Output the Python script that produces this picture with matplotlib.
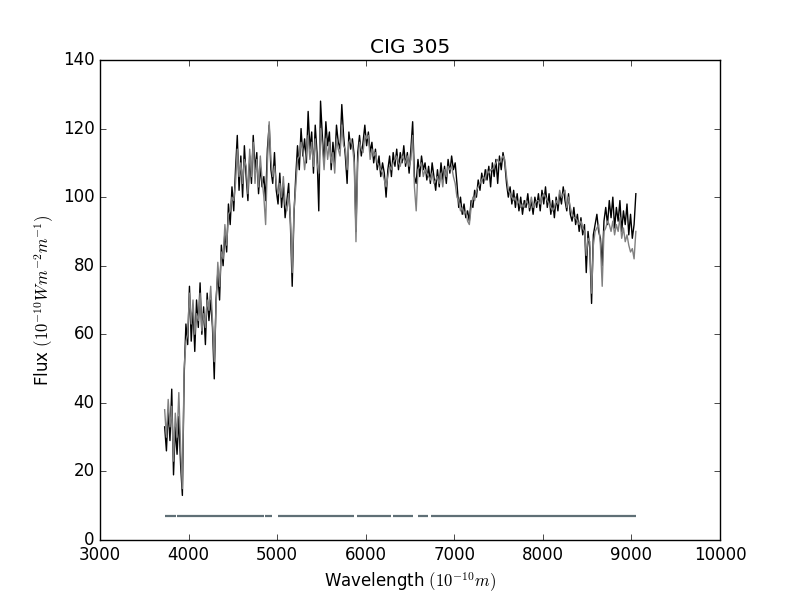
import numpy as np
import matplotlib
matplotlib.use("Agg")
import matplotlib.pyplot as plt

plt.style.use("classic")

title = "CIG 305"
wl_start = 3730.0
wl_step = 20.0

flux_observed = [
    33, 26, 38, 29, 44,
    19, 33, 25, 36, 22,
    13, 48, 63, 57, 74,
    58, 68, 55, 70, 62,
    75, 60, 68, 57, 72,
    64, 70, 62, 47, 70,
    78, 70, 86, 80, 90,
    84, 98, 92, 103, 96,
    108, 118, 102, 112, 100,
    115, 106, 99, 112, 104,
    118, 108, 113, 101, 109,
    103, 106, 99, 114, 121,
    108, 104, 113, 102, 98,
    107, 97, 104, 94, 99,
    104, 92, 74, 95, 106,
    115, 108, 120, 112, 117,
    110, 125, 114, 119, 107,
    121, 113, 96, 128, 118,
    110, 122, 115, 119, 108,
    116, 110, 121, 116, 114,
    127, 118, 112, 104, 119,
    114, 117, 112, 90, 113,
    118, 112, 116, 121, 115,
    119, 113, 116, 110, 114,
    108, 112, 106, 110, 107,
    100, 108, 112, 106, 113,
    109, 114, 108, 113, 110,
    115, 109, 113, 107, 114,
    122, 106, 104, 111, 106,
    112, 108, 110, 105, 109,
    104, 110, 106, 102, 108,
    103, 110, 105, 109, 104,
    111, 107, 112, 108, 110,
    104, 97, 100, 95, 98,
    94, 96, 93, 99, 97,
    102, 100, 105, 102, 107,
    104, 108, 105, 109, 103,
    110, 106, 111, 104, 112,
    108, 113, 110, 104, 100,
    103, 98, 102, 97, 101,
    96, 100, 95, 99, 97,
    101, 96, 99, 95, 100,
    97, 101, 96, 102, 98,
    103, 97, 101, 95, 99,
    94, 100, 96, 101, 98,
    103, 99, 96, 101, 95,
    93, 97, 92, 95, 90,
    94, 89, 92, 78, 90,
    85, 69, 89, 92, 95,
    90, 88, 80, 93, 97,
    92, 99, 94, 100, 91,
    97, 93, 99, 90, 96,
    92, 98, 89, 95, 88,
    92, 101,
]

flux_model = [
    38, 30, 41, 33, 39,
    23, 37, 30, 43, 27,
    15, 50, 58, 60, 72,
    63, 70, 60, 66, 64,
    72, 61, 66, 62, 70,
    67, 74, 64, 52, 68,
    81, 74, 84, 82, 92,
    86, 95, 96, 100, 99,
    104, 114, 106, 110, 104,
    111, 109, 101, 114, 106,
    116, 104, 111, 103, 112,
    105, 100, 92, 110, 122,
    111, 106, 109, 104, 101,
    104, 100, 106, 98, 96,
    101, 94, 78, 96, 103,
    111, 112, 116, 114, 108,
    113, 118, 111, 116, 109,
    117, 110, 107, 120, 115,
    108, 117, 111, 116, 110,
    113, 107, 117, 114, 112,
    121, 115, 114, 108, 116,
    117, 115, 110, 87, 110,
    116, 114, 113, 118, 117,
    118, 111, 114, 112, 113,
    110, 109, 108, 107, 105,
    103, 106, 109, 108, 110,
    111, 112, 110, 109, 112,
    111, 110, 112, 109, 111,
    118, 103, 96, 108, 109,
    110, 106, 108, 107, 106,
    105, 107, 104, 105, 106,
    104, 107, 103, 108, 106,
    109, 108, 109, 106, 104,
    100, 99, 96, 97, 95,
    96, 93, 92, 97, 100,
    99, 102, 103, 104, 105,
    106, 105, 108, 107, 108,
    108, 109, 110, 111, 110,
    111, 112, 111, 106, 102,
    101, 100, 99, 100, 98,
    99, 97, 98, 97, 99,
    98, 97, 100, 97, 98,
    99, 99, 98, 100, 101,
    100, 99, 98, 97, 96,
    97, 99, 98, 102, 100,
    101, 102, 97, 100, 97,
    95, 94, 94, 93, 92,
    93, 91, 90, 83, 88,
    87, 72, 86, 90, 91,
    92, 86, 74, 90, 91,
    93, 92, 90, 93, 89,
    92, 90, 94, 88, 91,
    87, 89, 86, 84, 85,
    82, 90,
]

mask_start = [3734, 3869, 4863, 5010, 5902, 6308, 6590, 6737]
mask_end = [3858, 4852, 4942, 5864, 6286, 6534, 6703, 9052]
mask_level = 7.0

assert len(flux_observed) == len(flux_model)
wavelength = wl_start + wl_step * np.arange(len(flux_observed))

fig = plt.figure(figsize=(8, 6), dpi=100)
ax = fig.add_subplot(111)
ax.plot(wavelength, flux_observed, color="black", lw=1.0)
ax.plot(wavelength, flux_model, color="#808080", lw=1.0)
ax.hlines([mask_level] * len(mask_start), mask_start, mask_end,
          color="#5f6f76", lw=1.6)

ax.set_xlim(3000, 10000)
ax.set_ylim(0, 140)
ax.set_title(title)
ax.set_xlabel(r"Wavelength $(10^{-10} m)$")
ax.set_ylabel(r"Flux $(10^{-10} W m^{-2} m^{-1})$")

fig.savefig("out.png", dpi=100)
